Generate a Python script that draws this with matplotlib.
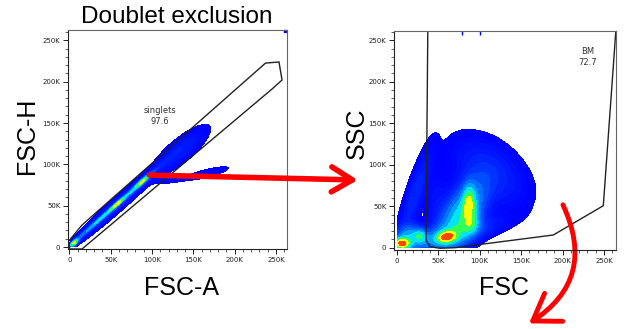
import numpy as np
import matplotlib.pyplot as plt
from matplotlib.colors import LinearSegmentedColormap
from matplotlib.patches import Polygon, FancyArrowPatch, ConnectionPatch

# density blobs, in K units:
# centre x, centre y, sigma along axis, sigma across, angle (deg), peak weight
dbl_cx = [50, 6, 88, 58, 60, 135, 118, 166]
dbl_cy = [45, 5, 79, 52, 53, 117, 82, 89]
dbl_smaj = [36, 4, 8, 6, 45, 25, 12, 20]
dbl_smin = [1.1, 1.5, 1.5, 1.2, 4.5, 8, 3, 3.5]
dbl_ang = [41.5, 41.5, 41.5, 41.5, 41.5, 40, 5, 14]
dbl_w = [0.36, 0.6, 0.5, 0.35, 0.07, 0.05, 0.03, 0.025]

bm_cx = [6, 28, 60, 87, 90, 22, 112, 52, 78, 14, 48]
bm_cy = [5, 14, 13, 52, 30, 64, 91, 12, 38, 14, 58]
bm_smaj = [6, 5, 7, 14, 8, 36, 33, 38, 28, 10, 24]
bm_smin = [4, 5, 4, 4.5, 6, 6.5, 20, 8, 13, 8, 9]
bm_ang = [0, 0, 10, 88, 80, 72, -40, 14, 62, 30, 90]
bm_w = [0.8, 0.3, 0.7, 0.45, 0.25, 0.07, 0.07, 0.2, 0.4, 0.25, 0.03]

# saturated events at the top edge of the BM plot
top_events_x = [79, 101]

# gates (K)
singlets_x = [-1.6, 15.4, 237.3, 253.6, 257.3, 245.2, 15.4, 0.8]
singlets_y = [6.0, 26.6, 222.5, 223.8, 202.0, 191.1, -2.4, -2.4]
bm_gate_x = [37.6, 35.3, 40.2, 52.2, 70.3, 188.9, 249.2, 264.1, 266.0]
bm_gate_y = [275, 9.3, 1.2, -0.7, 0.0, 15.3, 50.6, 258.4, 275]

ticks = [0, 50, 100, 150, 200, 250]
tick_labels = ["0", "50K", "100K", "150K", "200K", "250K"]

colors = ['#0000ff', '#0038ff', '#0070ff', '#00a8ff', '#00e0ff', '#00ffb0',
          '#40ff40', '#b0ff00', '#ffff00', '#ffb000', '#ff5000', '#ff0000']
cmap = LinearSegmentedColormap.from_list("flowjo", colors)
levels = [0.01, 0.014, 0.02, 0.028, 0.04, 0.056, 0.08, 0.11, 0.16, 0.23,
          0.32, 0.45, 0.62, 0.85, 1.01]


def density(cx, cy, smaj, smin, ang, w, X, Y):
    Z = np.zeros_like(X)
    for i in range(len(cx)):
        a = np.deg2rad(ang[i])
        u = (X - cx[i]) * np.cos(a) + (Y - cy[i]) * np.sin(a)
        v = -(X - cx[i]) * np.sin(a) + (Y - cy[i]) * np.cos(a)
        Z += w[i] * np.exp(-0.5 * (u**2 / smaj[i]**2 + v**2 / smin[i]**2))
    Z[(X < 1.0) | (Y < 0.5)] = 0
    return np.minimum(Z, 1.0)


def style_axes(ax, xlim, ylim):
    ax.set_xlim(*xlim)
    ax.set_ylim(*ylim)
    ax.set_xticks(ticks, tick_labels)
    ax.set_yticks(ticks, tick_labels)
    ax.set_xticks(np.arange(0, 261, 10), minor=True)
    ax.set_yticks(np.arange(0, 261, 10), minor=True)
    ax.tick_params(which='major', length=3.5, width=0.7, labelsize=5, colors='#222', pad=2)
    ax.tick_params(which='minor', length=2, width=0.6, colors='#444')
    for s in ax.spines.values():
        s.set_color('#666')
        s.set_linewidth(0.8)
    ax.spines['left'].set_color('#222')
    ax.spines['bottom'].set_color('#222')


fig = plt.figure(figsize=(6.25, 3.29), dpi=100)
ax1 = fig.add_axes([0.1088, 0.2432, 0.3504, 0.6656])
ax2 = fig.add_axes([0.6304, 0.2401, 0.3552, 0.6657])

gx = np.linspace(-5, 265, 811)
X, Y = np.meshgrid(gx, gx)

Z1 = density(dbl_cx, dbl_cy, dbl_smaj, dbl_smin, dbl_ang, dbl_w, X, Y)
ax1.contourf(X, Y, Z1, levels=levels, cmap=cmap)
ax1.add_patch(Polygon(np.column_stack([singlets_x, singlets_y]), closed=True,
                      fill=False, ec='#222', lw=1.0))
ax1.text(110, 158, "singlets\n97.6", ha='center', va='center', fontsize=6,
         color='#333', linespacing=1.3)
ax1.plot([261], [261], marker='s', ms=1.5, color='#0000ff', clip_on=False)
style_axes(ax1, (-1.6, 263.3), (-2.4, 262.5))

Z2 = density(bm_cx, bm_cy, bm_smaj, bm_smin, bm_ang, bm_w, X, Y)
ax2.contourf(X, Y, Z2, levels=levels, cmap=cmap)
ax2.add_patch(Polygon(np.column_stack([bm_gate_x, bm_gate_y]), closed=True,
                      fill=False, ec='#222', lw=1.0))
ax2.text(230, 230, "BM\n72.7", ha='center', va='center', fontsize=6,
         color='#333', linespacing=1.3)
ax2.plot(top_events_x, [259] * len(top_events_x), ls='none', marker='|', ms=3,
         mew=1, color='#0000ff')
style_axes(ax2, (-3.3, 264.5), (-2.8, 261.2))

fig.text(0.283, 0.948, "Doublet exclusion", ha='center', va='center',
         fontsize=17.5, family='Liberation Sans')
fig.text(0.043, 0.586, "FSC-H", ha='center', va='center', rotation=90,
         fontsize=18, family='Liberation Sans')
fig.text(0.2907, 0.126, "FSC-A", ha='center', va='center',
         fontsize=18, family='Liberation Sans')
fig.text(0.571, 0.596, "SSC", ha='center', va='center', rotation=90,
         fontsize=18, family='Liberation Sans')
fig.text(0.806, 0.126, "FSC", ha='center', va='center',
         fontsize=18, family='Liberation Sans')

arrow = ConnectionPatch(xyA=(97, 87), coordsA=ax1.transData,
                        xyB=(-47, 81.6), coordsB=ax2.transData,
                        arrowstyle='->,head_length=0.75,head_width=0.45',
                        mutation_scale=20, color='#ff0000', lw=4)
fig.add_artist(arrow)

curve = FancyArrowPatch((199, 54.7), (156.8, -93), connectionstyle='arc3,rad=-0.45',
                        arrowstyle='->,head_length=0.9,head_width=0.6',
                        mutation_scale=20, color='#ff0000', lw=3.5,
                        transform=ax2.transData, clip_on=False)
ax2.add_artist(curve)

fig.savefig("out.png", dpi=100)
